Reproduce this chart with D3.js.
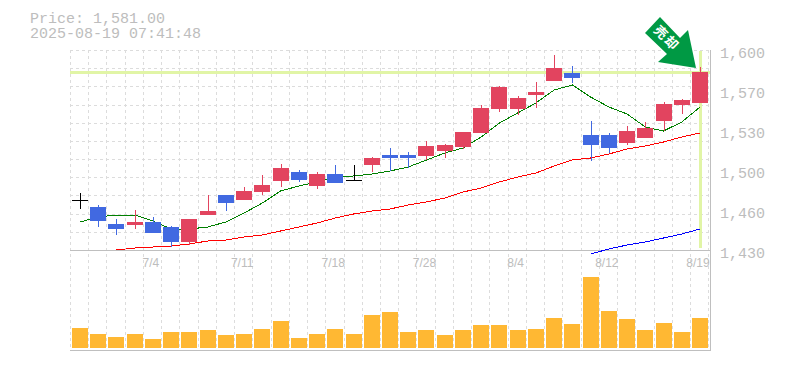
<!DOCTYPE html>
<html><head><meta charset="utf-8">
<style>html,body{margin:0;padding:0;background:#fff}svg{display:block}</style>
<script src="https://cdnjs.cloudflare.com/ajax/libs/d3/7.8.5/d3.min.js"></script>
</head><body><svg id="c" width="785" height="370"></svg>
<script>
// y-pixel readings converted to prices: price = 1600 - (px-50)*0.85
const px2p = y => 1600 - (y - 50) * 0.85;
const dates = d3.range(35);
const tickLabels = [[4,"7/4"],[9,"7/11"],[14,"7/18"],[19,"7/28"],[24,"8/4"],[29,"8/12"],[34,"8/19"]];
const priceTicks = [1600,1566,1532,1498,1464,1430];
const priceLabels = ["1,600","1,570","1,530","1,500","1,460","1,430"];
const bodyTop = [200,207,224,222,222,227,219,211,195,191,185,168,172,174,174,179.5,158,155,155,146,145,132,108,87,98,92,68,73,135,135,131,128,104,100,72];
const bodyBot = [200,221,229,225,233,242,242,215,203,200,192,181,180,186,183,179.5,165,158,158,156,151,147,133,109,109,95,81,78,145,148,143,138,121,105,103];
const wickTop = [193,205,219,210,217,226,219,195,195,187,175,164,170,172,165,165,157,148,152,141,144,132,105,86,96,82,55,66,121,133,126,122,102,99,67];
const wickBot = [209,227,235,229,233,247,245,215,211,200,195,187,182,189,183,181,172,171,168,160,158,149,133,112,115,108,81,83,161,153,145,138,131,114,103];
const kind = "kbbrbbrrbrrrbrbkrbbrrrrrrrrbbbrrrrr".split("");
const maGreen = [222,217,215,215,221,229,229,227,222,213,203,191,186,182,177,176,174,171,167,160,153,148,137,123,113,103,90,85,97,107,114,127,131,122,107];
const maRed = [null,null,250,248,247,246,244,241,240,237,235,231,227,223,218,214,211,209,205,202,198,192,188,182,177,173,166,160,158,154,149,146,142,137,133];
const maBlue = [null,null,null,null,null,null,null,null,null,null,null,null,null,null,null,null,null,null,null,null,null,null,null,null,null,null,null,null,254,249,245,242,238,234,229];
const volume = [20,14,11,14,9,16,16,18,13,14,19,27,10,14,19,14,33,36,16,18,13,18,23,23,18,19,30,24,71,37,29,18,25,16,30];
const currentPrice = 1581;
const titleLines = ["Price: 1,581.00","2025-08-19 07:41:48"];

const svg = d3.select("#c");
const x = d3.scalePoint().domain(dates).range([80,700]);
const step = x.step();
const y = d3.scaleLinear().domain([1430,1600]).range([250,50]);
const v = d3.scaleLinear().domain([0,100]).range([348,248]);
const gridCol = "#dcdcdc", axisCol = "#bfbfbf", hl = "#e1f5a6", txt = "#bdbdbd";
const mono = "'Liberation Mono',monospace";

// grid
const gx = d3.range(36).map(i => 70.5 + Math.round(i * step));
svg.append("g").selectAll("line").data(gx).join("line")
  .attr("x1",d=>d).attr("x2",d=>d).attr("y1",50).attr("y2",350)
  .attr("stroke",gridCol).attr("stroke-dasharray","3 3").attr("shape-rendering","crispEdges");
svg.append("g").selectAll("line").data(d3.range(11)).join("line")
  .attr("x1",70).attr("x2",710).attr("y1",d=>Math.round(y(1600)+d*200/11)+.5).attr("y2",d=>Math.round(y(1600)+d*200/11)+.5)
  .attr("stroke",gridCol).attr("stroke-dasharray","3 3").attr("shape-rendering","crispEdges");

// highlights
svg.append("line").attr("x1",70).attr("x2",710).attr("y1",y(currentPrice)).attr("y2",y(currentPrice))
  .attr("stroke",hl).attr("stroke-width",3).attr("shape-rendering","crispEdges");
svg.append("line").attr("x1",x(34)+.5).attr("x2",x(34)+.5).attr("y1",51).attr("y2",248)
  .attr("stroke",hl).attr("stroke-width",3).attr("shape-rendering","crispEdges");

// axes frame
const frame = [[70,250.5,710,250.5],[70,350.5,710,350.5],[710.5,50,710.5,351]];
svg.append("g").selectAll("line").data(frame).join("line")
  .attr("x1",d=>d[0]).attr("y1",d=>d[1]).attr("x2",d=>d[2]).attr("y2",d=>d[3])
  .attr("stroke",axisCol).attr("stroke-width",1).attr("shape-rendering","crispEdges");

// volume
svg.append("g").selectAll("rect").data(volume).join("rect")
  .attr("x",(d,i)=>Math.round(x(i))-8).attr("width",16)
  .attr("y",d=>v(d)).attr("height",d=>v(0)-v(d)).attr("fill","#ffb833");

// MAs
const line = d3.line().defined(d=>d!=null).x((d,i)=>x(i)).y(d=>y(px2p(d)));
[[maGreen,"#008000"],[maRed,"#ff0000"],[maBlue,"#0000ff"]].forEach(([s,c])=>{
  svg.append("path").attr("d",line(s)).attr("fill","none").attr("stroke",c)
    .attr("stroke-width",1).attr("shape-rendering","crispEdges");
});

// candles
const col = k => k=="r" ? "#e2445f" : k=="b" ? "#4169e1" : "#000";
const g = svg.append("g").attr("shape-rendering","crispEdges");
dates.forEach(i=>{
  const cx = Math.round(x(i));
  g.append("line").attr("x1",cx+.5).attr("x2",cx+.5)
    .attr("y1",y(px2p(wickTop[i]))).attr("y2",y(px2p(wickBot[i])))
    .attr("stroke",col(kind[i]));
  const top = y(px2p(bodyTop[i])), bot = y(px2p(bodyBot[i]));
  g.append("rect").attr("x",cx-8).attr("width",16).attr("y",top)
    .attr("height",Math.max(bot-top,1)).attr("fill",col(kind[i]));
});

// labels
svg.append("g").selectAll("text").data(priceTicks).join("text")
  .attr("x",720).attr("y",d=>y(d)+8).text((d,i)=>priceLabels[i])
  .attr("font-family",mono).attr("font-size",15).attr("fill",txt);
svg.append("g").selectAll("text").data(tickLabels).join("text")
  .attr("x",d=>x(d[0])-2).attr("y",267).attr("text-anchor","middle").text(d=>d[1])
  .attr("font-family","'Liberation Sans',sans-serif").attr("font-size",12).attr("fill",txt);
svg.append("text").attr("font-family",mono).attr("font-size",15).attr("fill",txt)
  .selectAll("tspan").data(titleLines).join("tspan")
  .attr("x",30).attr("y",(d,i)=>23+i*15).text(d=>d);

// signal arrow
svg.append("polygon").attr("points","660,17 645,33 667,54 658,62 696,68 688,30 680,38").attr("fill","#009944");
svg.append("text").attr("transform","translate(666,39) rotate(45)")
  .attr("text-anchor","middle").attr("dominant-baseline","middle")
  .attr("font-family","'Noto Sans CJK JP'").attr("font-weight",700).attr("font-size",13)
  .attr("letter-spacing",2).attr("fill","#fff").text("売却");
</script></body></html>
